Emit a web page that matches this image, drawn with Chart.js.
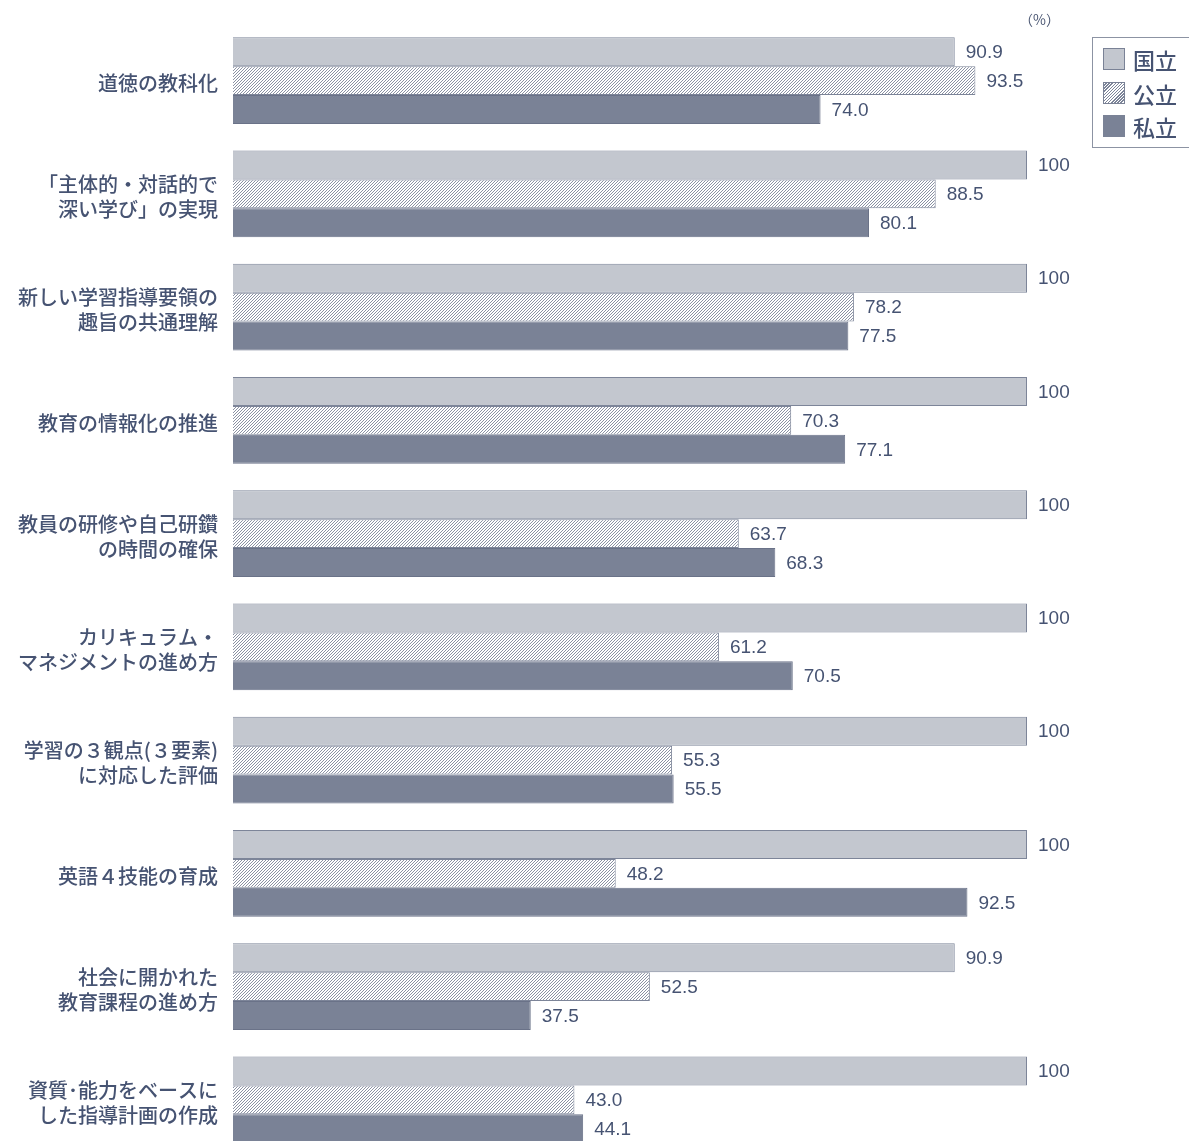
<!DOCTYPE html>
<html lang="ja">
<head>
<meta charset="utf-8">
<script src="https://cdn.jsdelivr.net/npm/chart.js@4/dist/chart.umd.min.js"></script>
<style>
  html, body { margin: 0; padding: 0; background: #fff; overflow: hidden; }
  #wrap { position: relative; width: 1189px; height: 1141px; overflow: hidden; }
  #chart { position: absolute; left: 0; top: -8px; }
  .unit { position: absolute; left: 1019px; top: 9px; font: 14px "Noto Sans CJK JP", sans-serif; color: #4a5672; }
  .legend { position: absolute; left: 1092px; top: 37px; width: 110px; height: 111px; border: 1px solid #8c93a3; box-sizing: border-box; }
  .legend div { position: absolute; left: 10px; height: 22px; font: 500 22px/22px "Noto Sans CJK JP", sans-serif; color: #465372; }
  .legend span { display: inline-block; width: 20px; height: 20px; border: 1px solid #7a8296; vertical-align: top; margin-right: 8px; }
</style>
</head>
<body>
<div id="wrap">
  <canvas id="chart" width="1189" height="1184"></canvas>
  <div class="unit">（%）</div>
  <div class="legend">
    <div style="top:10px"><span style="background:#c3c7cf"></span>国立</div>
    <div style="top:44px"><span style="background:repeating-linear-gradient(135deg,#fff 0 1.2px,#7d8599 1.2px 2.2px)"></span>公立</div>
    <div style="top:77px"><span style="background:#7a8296"></span>私立</div>
  </div>
</div>
<script>
const categories = [
  ["道徳の教科化"],
  ["「主体的・対話的で", "深い学び」の実現"],
  ["新しい学習指導要領の", "趣旨の共通理解"],
  ["教育の情報化の推進"],
  ["教員の研修や自己研鑽", "の時間の確保"],
  ["カリキュラム・", "マネジメントの進め方"],
  ["学習の３観点(３要素)", "に対応した評価"],
  ["英語４技能の育成"],
  ["社会に開かれた", "教育課程の進め方"],
  ["資質･能力をベースに", "した指導計画の作成"],
];
const seriesNames = ["国立", "公立", "私立"];
const national = [90.9, 100, 100, 100, 100, 100, 100, 100, 90.9, 100];
const publicSchools = [93.5, 88.5, 78.2, 70.3, 63.7, 61.2, 55.3, 48.2, 52.5, 43.0];
const privateSchools = [74.0, 80.1, 77.5, 77.1, 68.3, 70.5, 55.5, 92.5, 37.5, 44.1];

const TEXT = "#465372";

function hatchPattern() {
  const c = document.createElement("canvas");
  c.width = 3; c.height = 3;
  const g = c.getContext("2d");
  g.fillStyle = "#fff";
  g.fillRect(0, 0, 3, 3);
  g.strokeStyle = "#7d8599";
  g.lineWidth = 0.9;
  g.beginPath();
  g.moveTo(0, 3); g.lineTo(3, 0);
  g.moveTo(-1, 1); g.lineTo(1, -1);
  g.moveTo(2, 4); g.lineTo(4, 2);
  g.stroke();
  return g.createPattern(c, "repeat");
}

const valueLabels = {
  id: "valueLabels",
  afterDatasetsDraw(chart) {
    const ctx = chart.ctx;
    ctx.save();
    ctx.font = "19px 'Liberation Sans', 'Noto Sans', sans-serif";
    ctx.fillStyle = TEXT;
    ctx.textBaseline = "middle";
    ctx.textAlign = "left";
    chart.data.datasets.forEach((ds, di) => {
      chart.getDatasetMeta(di).data.forEach((bar, i) => {
        const v = ds.data[i];
        const txt = v === 100 ? "100" : v.toFixed(1);
        ctx.fillText(txt, bar.x + 11, bar.y + 1);
      });
    });
    ctx.restore();
  }
};

new Chart(document.getElementById("chart"), {
  type: "bar",
  data: {
    labels: categories,
    datasets: [
      { label: seriesNames[0], data: national, backgroundColor: "#c3c7cf", borderColor: "#7d8599", borderWidth: 1 },
      { label: seriesNames[1], data: publicSchools, backgroundColor: hatchPattern(), borderColor: "#7d8599", borderWidth: 1 },
      { label: seriesNames[2], data: privateSchools, backgroundColor: "#7a8296", borderColor: "#6a7288", borderWidth: 1 },
    ],
  },
  options: {
    indexAxis: "y",
    responsive: false,
    animation: false,
    categoryPercentage: 0.767,
    barPercentage: 1,
    layout: { padding: { top: 24, right: 162, bottom: 0, left: 0 } },
    plugins: {
      legend: { display: false },
      tooltip: { enabled: false },
    },
    scales: {
      x: { display: false, min: 0, max: 100 },
      y: {
        grid: { display: false },
        border: { display: false },
        afterFit: s => { s.width = 233; },
        ticks: {
          padding: 7,
          labelOffset: 3,
          color: TEXT,
          font: { family: "'Noto Sans CJK JP', sans-serif", size: 20, weight: "500", lineHeight: 1.25 },
        },
      },
    },
  },
  plugins: [valueLabels],
});
</script>
</body>
</html>
